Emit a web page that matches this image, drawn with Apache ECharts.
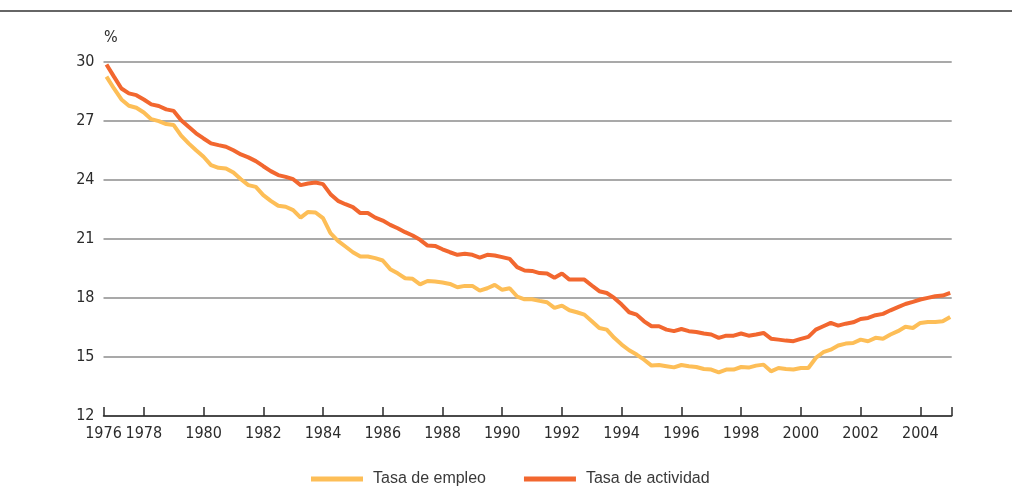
<!DOCTYPE html>
<html>
<head>
<meta charset="utf-8">
<script src="https://cdn.jsdelivr.net/npm/echarts@6/dist/echarts.min.js"></script>
<style>
html,body{margin:0;padding:0;background:#fff;}
#chart{width:1012px;height:502px;}
</style>
</head>
<body>
<div id="chart"></div>
<script>
// Quarterly series, 1976-III to 2004-IV
const firstYear = 1976, firstQuarter = 3, lastYear = 2004, lastQuarter = 4;
const seriesNames = ['Tasa de empleo', 'Tasa de actividad'];
const tasaEmpleo = [
  29.24, 28.64, 28.08, 27.76, 27.66, 27.42, 27.08, 26.98, 26.83, 26.78,
  26.24, 25.85, 25.50, 25.17, 24.75, 24.61, 24.58, 24.37, 24.03, 23.73,
  23.64, 23.22, 22.93, 22.68, 22.63, 22.46, 22.08, 22.37, 22.34,
  22.05, 21.29, 20.90, 20.61, 20.32, 20.10, 20.10, 20.02, 19.90, 19.46,
  19.25, 19.00, 18.97, 18.69, 18.86, 18.83, 18.78, 18.71, 18.54, 18.61,
  18.61, 18.37, 18.49, 18.66, 18.41, 18.49, 18.07, 17.93, 17.93, 17.85,
  17.78, 17.49, 17.61, 17.37, 17.27, 17.15, 16.81, 16.47, 16.39, 15.97,
  15.63, 15.34, 15.12, 14.86, 14.56, 14.59, 14.53, 14.47, 14.59, 14.53,
  14.49, 14.39, 14.36, 14.22, 14.36, 14.36, 14.49, 14.46,
  14.56, 14.61, 14.27, 14.44, 14.39, 14.36, 14.44, 14.44, 14.95, 15.24,
  15.37, 15.58, 15.68, 15.71, 15.88, 15.80, 15.97, 15.93, 16.14, 16.31,
  16.53, 16.47, 16.73, 16.78, 16.78, 16.81, 17.03
];
const tasaActividad = [
  29.86, 29.24, 28.64, 28.39, 28.30, 28.08, 27.83, 27.75, 27.58, 27.50,
  27.03, 26.69, 26.36, 26.10, 25.85, 25.76, 25.68, 25.50, 25.29, 25.14,
  24.95, 24.69, 24.44, 24.24, 24.15, 24.03, 23.73, 23.81, 23.86,
  23.78, 23.27, 22.93, 22.76, 22.61, 22.31, 22.31, 22.08, 21.93, 21.71,
  21.54, 21.34, 21.17, 20.95, 20.66, 20.64, 20.47, 20.32, 20.19, 20.24,
  20.19, 20.05, 20.19, 20.15, 20.07, 19.98, 19.56, 19.39, 19.37, 19.26,
  19.24, 19.02, 19.24, 18.93, 18.93, 18.93, 18.63, 18.34, 18.25, 18.00,
  17.66, 17.27, 17.15, 16.81, 16.56, 16.56, 16.39, 16.31, 16.42, 16.31,
  16.27, 16.19, 16.14, 15.97, 16.08, 16.08, 16.19, 16.08,
  16.14, 16.22, 15.93, 15.88, 15.83, 15.80, 15.92, 16.02, 16.39, 16.56,
  16.73, 16.59, 16.69, 16.76, 16.93, 16.98, 17.12, 17.19, 17.37, 17.53,
  17.69, 17.80, 17.92, 18.00, 18.08, 18.12, 18.25
];
const xLabelYears = [1976, 1978, 1980, 1982, 1984, 1986, 1988, 1990, 1992, 1994, 1996, 1998, 2000, 2002, 2004];
const yTicks = { min: 12, max: 30, interval: 3 };
const xRange = { min: 1976.65, max: 2005.05 };

// time position of each quarter (plotted at quarter end)
const periods = [];
for (let y = firstYear; y <= lastYear; y++) {
  for (let q = 1; q <= 4; q++) {
    if (y === firstYear && q < firstQuarter) continue;
    if (y === lastYear && q > lastQuarter) continue;
    periods.push(y + q / 4);
  }
}
const pair = arr => arr.map((v, i) => [periods[i], v]);

const labelPositions = xLabelYears.map((y, i) => i === 0 ? xRange.min : y);
const tickPositions = labelPositions.concat([xRange.max]);

const axisFont = '"Liberation Sans Narrow","DejaVu Sans Condensed","Roboto Condensed",sans-serif';
const chart = echarts.init(document.getElementById('chart'));
chart.setOption({
  animation: false,
  backgroundColor: '#fff',
  grid: { left: 103.5, right: 60.3, top: 61.7, bottom: 86, containLabel: false },
  xAxis: {
    type: 'value',
    min: xRange.min,
    max: xRange.max,
    axisLine: { show: true, onZero: false, lineStyle: { color: '#2b2b2b', width: 1.5 } },
    axisTick: { show: true, inside: true, length: 9, customValues: tickPositions, lineStyle: { color: '#2b2b2b', width: 1.5 } },
    axisLabel: {
      customValues: labelPositions,
      formatter: v => v < 1977 ? '1976' : String(Math.round(v)),
      color: '#2b2b2b', fontFamily: axisFont, fontSize: 16, margin: 10
    },
    splitLine: { show: false }
  },
  yAxis: {
    type: 'value',
    min: yTicks.min, max: yTicks.max, interval: yTicks.interval,
    axisLine: { show: false },
    axisTick: { show: false },
    axisLabel: { color: '#2b2b2b', fontFamily: axisFont, fontSize: 16, margin: 9 },
    splitLine: { show: true, lineStyle: { color: '#8c8c8c', width: 1.6 } }
  },
  legend: {
    left: 311, top: 471, padding: 0,
    itemWidth: 52, itemHeight: 5, itemGap: 38,
    icon: 'rect',
    textStyle: { color: '#3a3a3a', fontSize: 16, fontFamily: '"Liberation Sans",Arial,sans-serif', padding: [0, 0, 0, 5] },
    data: seriesNames
  },
  graphic: [
    { type: 'line', shape: { x1: 0, y1: 11, x2: 1012, y2: 11 }, style: { stroke: '#333', lineWidth: 1.6 } },
    { type: 'text', left: 104, top: 30, style: { text: '%', fill: '#2b2b2b', font: '16px ' + axisFont } }
  ],
  series: [
    { name: seriesNames[0], type: 'line', data: pair(tasaEmpleo), showSymbol: false, symbol: 'none',
      lineStyle: { width: 4, color: '#FDBE57' }, itemStyle: { color: '#FDBE57' } },
    { name: seriesNames[1], type: 'line', data: pair(tasaActividad), showSymbol: false, symbol: 'none',
      lineStyle: { width: 4, color: '#F2672F' }, itemStyle: { color: '#F2672F' } }
  ]
});
</script>
</body>
</html>
